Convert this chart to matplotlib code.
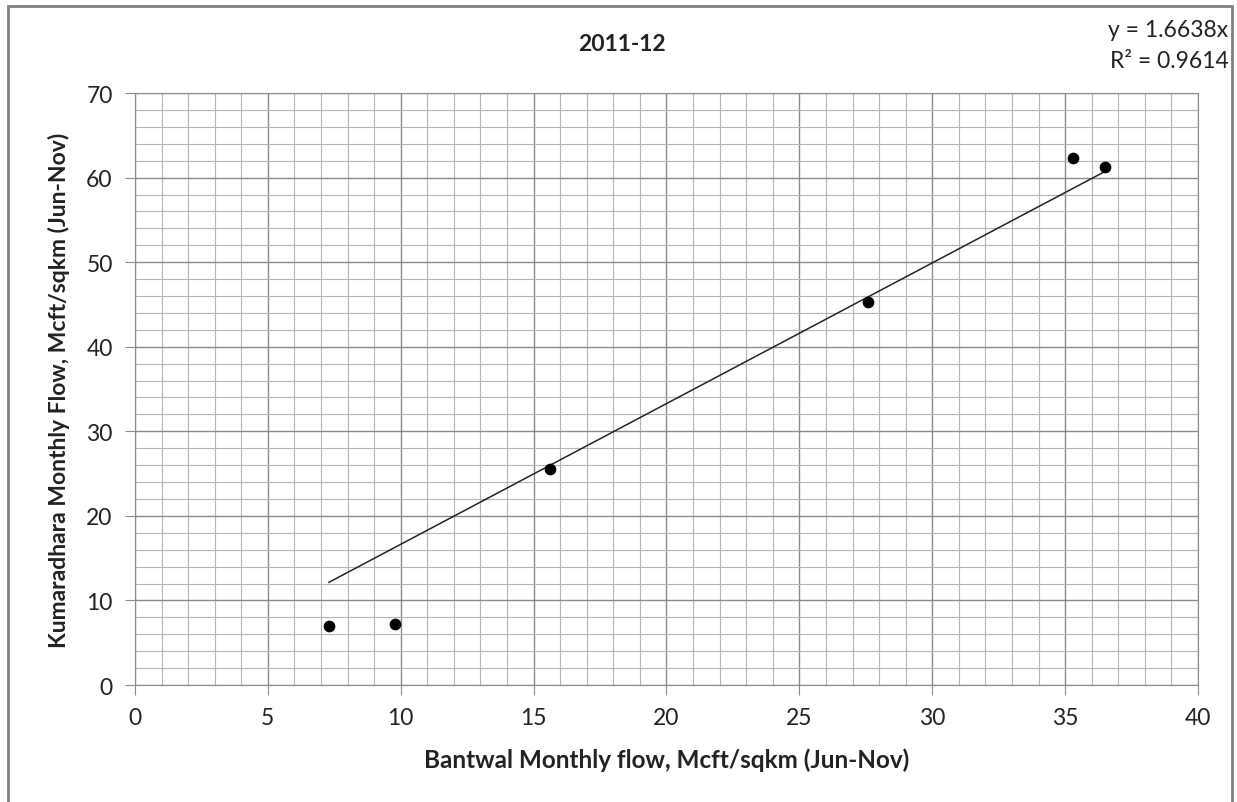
import matplotlib.pyplot as plt
import numpy as np
from matplotlib.patches import Rectangle

# Bantwal vs Kumaradhara monthly flow, 2011-12 (Jun-Nov)
bantwal = [7.3, 9.8, 15.6, 27.6, 35.3, 36.5]
kumaradhara = [7.0, 7.2, 25.5, 45.3, 62.3, 61.3]
slope = 1.6638
r2 = 0.9614

plt.rcParams['font.family'] = ['Lato', 'DejaVu Sans']

fig = plt.figure(figsize=(12.37, 8.03), dpi=100)
ax = fig.add_axes([0.1091, 0.1457, 0.8594, 0.7372])

# grid: minor every 1 (x) / 2 (y), major every 5 / 10
ax.set_xlim(0, 40)
ax.set_ylim(0, 70)
ax.set_xticks(np.arange(0, 41, 5))
ax.set_yticks(np.arange(0, 71, 10))
ax.set_xticks(np.arange(0, 41, 1), minor=True)
ax.set_yticks(np.arange(0, 71, 2), minor=True)
ax.grid(True, which='major', color='#8a8a8a', linewidth=1.0)
ax.grid(True, which='minor', color='#b4b4b4', linewidth=0.8)
ax.set_axisbelow(True)
for s in ax.spines.values():
    s.set_color('#8a8a8a')
ax.tick_params(which='major', direction='out', length=7, color='#8a8a8a',
               labelsize=16.5, pad=9, labelcolor='#222222')
ax.tick_params(which='minor', length=0)

ax.scatter(bantwal, kumaradhara, s=55, color='black', zorder=3)

# linear trendline through the origin, drawn over the data range
xt = np.array([min(bantwal), max(bantwal)])
ax.plot(xt, slope * xt, color='#222222', linewidth=1.1, zorder=2)

ax.set_xlabel('Bantwal Monthly flow, Mcft/sqkm (Jun-Nov)', fontsize=17.5,
              fontweight='bold', labelpad=14, color='#222222')
ax.set_ylabel('Kumaradhara Monthly Flow, Mcft/sqkm (Jun-Nov)', fontsize=16.5,
              fontweight='bold', labelpad=12, color='#222222')

fig.text(0.503, 0.944, '2011-12', ha='center', va='center', fontsize=16.5,
         fontweight='bold', color='#222222')
fig.text(0.993, 0.962, f'y = {slope}x', ha='right', va='center', fontsize=16.5,
         color='#222222')
fig.text(0.993, 0.923, f'R² = {r2}', ha='right', va='center', fontsize=16.5,
         color='#222222')

# outer chart frame
fig.patches.append(Rectangle((8 / 1237, -0.05), 1224 / 1237, 1 - 7 / 803 + 0.05,
                             transform=fig.transFigure, fill=False,
                             edgecolor='#808080', linewidth=2))

fig.savefig('out.png', dpi=100)
